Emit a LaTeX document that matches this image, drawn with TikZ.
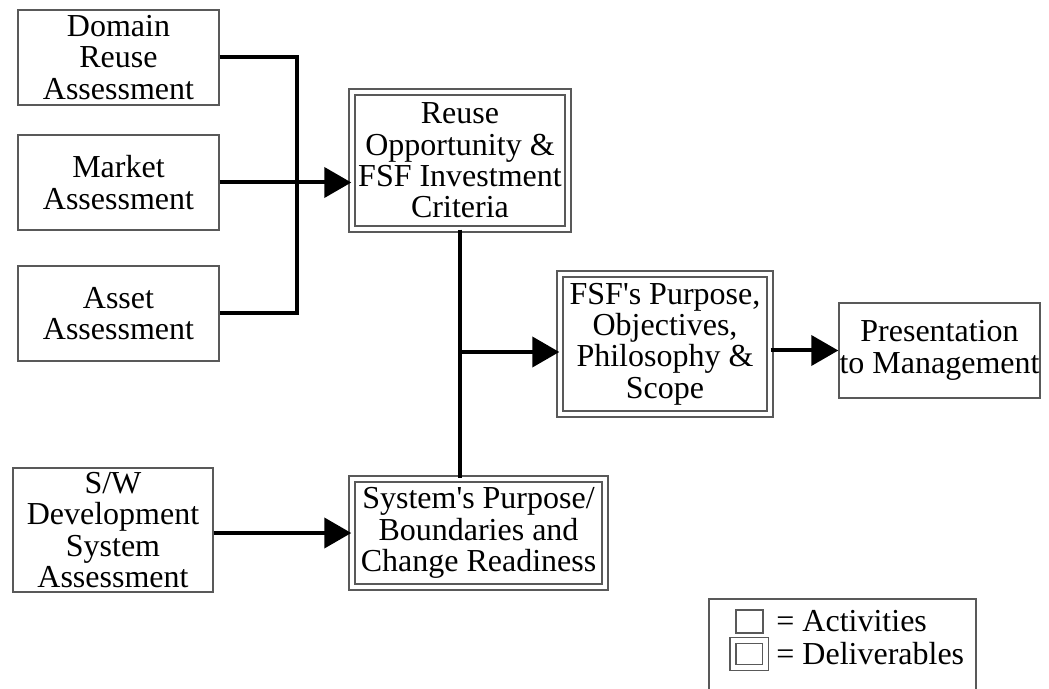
\documentclass[tikz,border=0pt]{standalone}
\usepackage{fontspec}
\setmainfont{Liberation Serif}
\usetikzlibrary{arrows.meta}
\tikzset{
	actbox/.style={draw=black!65, line width=0.7pt, align=center, inner sep=0pt,
		font=\fontsize{16}{15.7}\selectfont},
	delbox/.style={actbox, double=white, double distance=2.2pt},
	flow/.style={line width=2pt},
	arr/.style={flow, -{Triangle[length=13.5pt, width=15pt]}}
}

\begin{document}
\begin{tikzpicture}[x=0.5pt, y=-0.5pt]
			%%%%% START %%%%%
			\useasboundingbox (0, 0) rectangle (1049, 689);
			
			\node[actbox, minimum width=100.5pt, minimum height=47.5pt] (dra) at (118.5, 57.5) {Domain\\Reuse\\Assessment};
			\node[actbox, minimum width=100.5pt, minimum height=47.5pt] (mkt) at (118.5, 182.5) {Market\\Assessment};
			\node[actbox, minimum width=100.5pt, minimum height=47.5pt] (ast) at (118.5, 313.5) {Asset\\Assessment};
			\node[actbox, minimum width=100pt, minimum height=62pt] (swd) at (113, 530) {S/W\\Development\\System\\Assessment};
			
			\node[delbox, minimum width=108pt, minimum height=68.5pt] (reu) at (460, 160.5) {Reuse\\Opportunity \&\\FSF Investment\\Criteria};
			\node[delbox, minimum width=105pt, minimum height=70pt] (fsf) at (665, 344) {FSF\textquotesingle s Purpose,\\Objectives,\\Philosophy \&\\Scope};
			\node[delbox, minimum width=126.5pt, minimum height=54pt] (sys) at (478.5, 533) {System\textquotesingle s Purpose/\\Boundaries and\\Change Readiness};
			\node[actbox, minimum width=100.5pt, minimum height=47.5pt] (pre) at (939.5, 350.5) {Presentation\\to Management};
			
			% connectors
			\coordinate (jn) at (297, 0);
			\coordinate (br) at (460, 352);
			\draw[flow] (dra.east) -| (jn |- ast.east) -- (ast.east);
			\draw[arr] (mkt.east) -- (mkt.east -| reu.west);
			\draw[flow] (reu.south) -- (reu.south |- sys.north);
			\draw[arr] (br) -- (br -| fsf.west);
			\draw[arr] (fsf.east |- pre.west) -- (pre.west);
			\draw[arr] (sys.west -| swd.east) -- (sys.west);
			
			% legend
			\draw[draw=black!65, line width=0.7pt] (709, 689) -- (709, 599) -- (976, 599) -- (976, 689);
			\node[actbox, minimum width=13.5pt, minimum height=11.5pt] (lga) at (749.5, 621.5) {};
			\node[delbox, minimum width=16.25pt, minimum height=13.5pt] (lgd) at (749.25, 654) {};
			\node[anchor=west, inner sep=0pt, font=\fontsize{16}{15.7}\selectfont] (lta) at (776, 621.5) {= Activities};
			\node[anchor=west, inner sep=0pt, font=\fontsize{16}{15.7}\selectfont] (ltd) at (776, 654) {= Deliverables};
			
			%%%%% END %%%%%
		\end{tikzpicture}
\end{document}
